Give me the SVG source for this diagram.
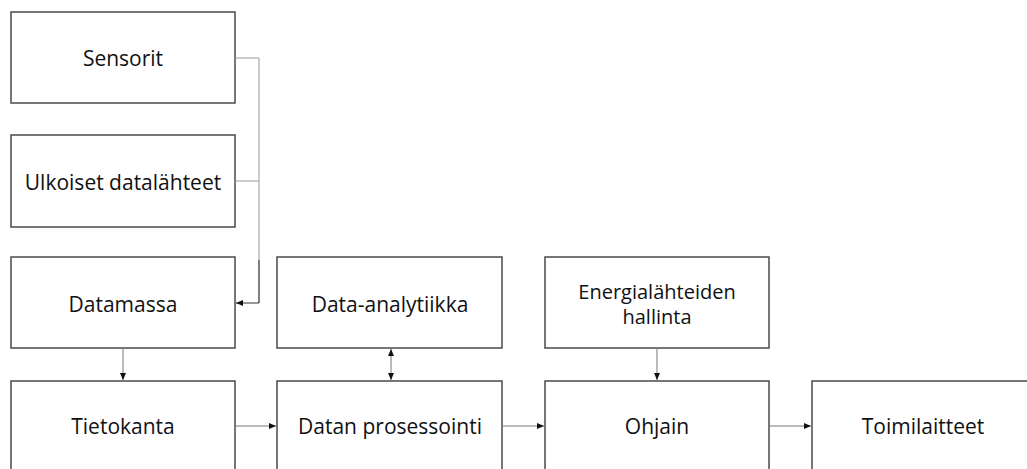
<svg xmlns="http://www.w3.org/2000/svg" width="1027" height="469" viewBox="0 0 1027 469">
<style>
.box{fill:#fff;stroke:#4a4a4a;stroke-width:1.5}
.lbl{font-family:"Open Sans","Liberation Sans",sans-serif;font-size:21px;fill:#111;text-anchor:middle;dominant-baseline:central}
.con{fill:none;stroke:#777;stroke-width:1}
</style>
<defs>
<marker id="ah" markerWidth="8" markerHeight="8" refX="7" refY="4" orient="auto" markerUnits="userSpaceOnUse">
<path d="M0,1 L7,4 L0,7 Z" fill="#111"/>
</marker>
<marker id="ahs" markerWidth="8" markerHeight="8" refX="7" refY="4" orient="auto-start-reverse" markerUnits="userSpaceOnUse">
<path d="M0,1 L7,4 L0,7 Z" fill="#111"/>
</marker>
</defs>
<rect width="1027" height="469" fill="#fff"/>
<g id="sensorit"><rect class="box" x="11" y="12" width="224" height="91"/><text class="lbl" x="123" y="58">Sensorit</text></g>
<g id="ulkoiset"><rect class="box" x="11" y="135" width="224" height="92"/><text class="lbl" x="123" y="182">Ulkoiset datalähteet</text></g>
<g id="datamassa"><rect class="box" x="11" y="257" width="224" height="91"/><text class="lbl" x="123" y="304">Datamassa</text></g>
<g id="tietokanta"><rect class="box" x="11" y="381" width="224" height="92"/><text class="lbl" x="123" y="426">Tietokanta</text></g>
<g id="analytiikka"><rect class="box" x="277" y="257" width="225" height="91"/><text class="lbl" x="390" y="304">Data-analytiikka</text></g>
<g id="prosessointi"><rect class="box" x="277" y="381" width="225" height="92"/><text class="lbl" x="390" y="426">Datan prosessointi</text></g>
<g id="energia"><rect class="box" x="545" y="257" width="224" height="91"/><text class="lbl" x="657" y="303" style="font-size:20px"><tspan x="657" dy="-12">Energialähteiden</tspan><tspan x="657" dy="25">hallinta</tspan></text></g>
<g id="ohjain"><rect class="box" x="545" y="381" width="224" height="92"/><text class="lbl" x="657" y="426">Ohjain</text></g>
<g id="toimilaitteet"><rect class="box" x="812" y="381" width="224" height="92"/><text class="lbl" x="923" y="426">Toimilaitteet</text></g>
<g id="connectors">
<path class="con" d="M235,58 H259 V303" style="stroke:#999"/>
<path class="con" d="M235,181 H259" style="stroke:#999"/>
<path class="con" d="M259,260 V303 H236" style="stroke:#333" marker-end="url(#ah)"/>
<path class="con" d="M123,348 V380" marker-end="url(#ah)"/>
<path class="con" d="M235,426 H276" marker-end="url(#ah)"/>
<path class="con" d="M391,349 V380" stroke="#333" marker-start="url(#ahs)" marker-end="url(#ah)"/>
<path class="con" d="M502,426 H544" marker-end="url(#ah)"/>
<path class="con" d="M657,348 V380" marker-end="url(#ah)"/>
<path class="con" d="M769,426 H811" marker-end="url(#ah)"/>
</g>
</svg>
